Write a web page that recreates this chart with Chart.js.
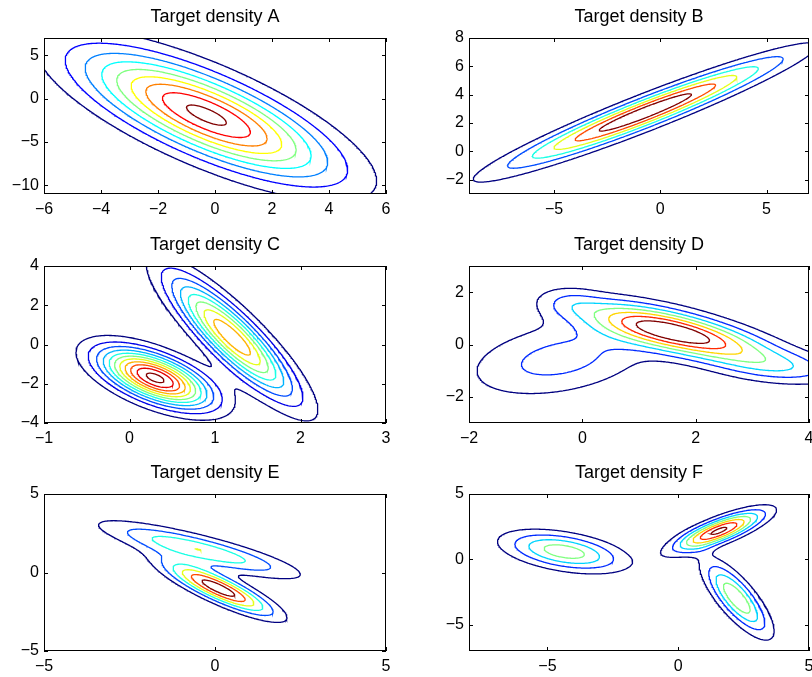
<!DOCTYPE html>
<html lang="en">
<head>
<meta charset="UTF-8">
<title>Target densities A-F</title>
<script src="https://cdn.jsdelivr.net/npm/chart.js"></script>
<style>
  html, body { margin: 0; padding: 0; background: #fff; overflow: hidden; }
  .panel { position: absolute; }
</style>
</head>
<body>
<div class="panel" id="pA"><canvas id="cA"></canvas></div>
<div class="panel" id="pB"><canvas id="cB"></canvas></div>
<div class="panel" id="pC"><canvas id="cC"></canvas></div>
<div class="panel" id="pD"><canvas id="cD"></canvas></div>
<div class="panel" id="pE"><canvas id="cE"></canvas></div>
<div class="panel" id="pF"><canvas id="cF"></canvas></div>

<script>
// Each density is a sum of Gaussian bumps: [meanX, meanY, sdX, sdY, corr, peak height]
// Contour levels are read off the picture, relative to the main peak.

const titles = ['Target density A', 'Target density B', 'Target density C',
                'Target density D', 'Target density E', 'Target density F'];

// A
const compA = [[-0.3, -1.9, 2.83, 4.74, -0.76, 1]];
const levelsA = [0.108, 0.216, 0.323, 0.431, 0.539, 0.647, 0.754, 0.862, 0.97];
const rangeA = [-6, 6, -11, 7];
const xTicksA = [-6, -4, -2, 0, 2, 4, 6];
const yTicksA = [-10, -5, 0, 5];

// B
const compB = [[-0.7, 2.75, 4.12, 2.5, 0.957, 1]];
const levelsB = [0.145, 0.29, 0.435, 0.58, 0.725, 0.87];
const rangeB = [-9, 7, -3, 8];
const xTicksB = [-5, 0, 5];
const yTicksB = [-2, 0, 2, 4, 6, 8];

// C
const compC = [[0.3, -1.7, 0.42, 0.98, -0.6, 1],
               [1.2, 0.37, 0.48, 2.04, -0.87, 0.78]];
const levelsC = [0.088, 0.176, 0.265, 0.353, 0.441, 0.529, 0.617, 0.706, 0.794, 0.882, 0.97];
const rangeC = [-1, 3, -4, 4];
const xTicksC = [-1, 0, 1, 2, 3];
const yTicksC = [-4, -2, 0, 2, 4];

// D
const compD = [[1.67, 0.45, 1.1, 0.75, -0.72, 1],
               [-0.4, -0.55, 1.1, 1.0, 0.35, 0.31],
               [3.5, -0.9, 0.8, 0.45, -0.3, 0.25],
               [-0.25, 1.6, 0.35, 0.4, 0, 0.12]];
const levelsD = [0.129, 0.257, 0.386, 0.514, 0.643, 0.771, 0.9];
const rangeD = [-2, 4, -3, 3];
const xTicksD = [-2, 0, 2, 4];
const yTicksD = [-2, 0, 2];

// E
const compE = [[-0.45, 1.45, 1.77, 1.11, -0.85, 0.598],
               [0.1, -1.0, 1.03, 1.12, -0.86, 1]];
const levelsE = [0.15, 0.3, 0.45, 0.6, 0.75, 0.9];
const rangeE = [-5, 5, -5, 5];
const xTicksE = [-5, 0, 5];
const yTicksE = [-5, 0, 5];

// F
const compF = [[1.57, 2.19, 1.1, 1.0, 0.79, 1],
               [-4.36, 0.6, 1.46, 0.98, -0.44, 0.634],
               [2.24, -2.96, 0.8, 1.8, -0.78, 0.676]];
const levelsF = [0.138, 0.276, 0.414, 0.552, 0.69, 0.828, 0.966];
const rangeF = [-8, 5, -7, 5];
const xTicksF = [-5, 0, 5];
const yTicksF = [-5, 0, 5];

// plot boxes on the page: left, top, width, height
const boxes = [[44, 38, 342, 156], [469, 38, 340, 156],
               [44, 266, 342, 157], [469, 266, 340, 157],
               [44, 494, 342, 157], [469, 494, 340, 157]];

// an empty right axis as wide as the left one keeps the title centred over the box
const Y_AXIS_W = 44, TITLE_H = 38, X_AXIS_H = 28;
const FONT = "'Liberation Sans', Arial, Helvetica, sans-serif";

function density(comps, x, y) {
  let s = 0;
  for (const [mx, my, sx, sy, r, h] of comps) {
    const u = (x - mx) / sx, v = (y - my) / sy;
    const q = (u * u - 2 * r * u * v + v * v) / (1 - r * r);
    s += h * Math.exp(-0.5 * q);
  }
  return s;
}

function makeGrid(comps, rng) {
  const [x0, x1, y0, y1] = rng;
  const nx = 261, ny = 181;
  const xs = [], ys = [];
  for (let i = 0; i < nx; i++) xs.push(x0 + (x1 - x0) * i / (nx - 1));
  for (let j = 0; j < ny; j++) ys.push(y0 + (y1 - y0) * j / (ny - 1));
  const v = ys.map(yy => xs.map(xx => density(comps, xx, yy)));
  return { xs, ys, v };
}

// marching squares, segments joined into polylines
function traceLevel(g, level) {
  const { xs, ys, v } = g;
  const pts = new Map(), adj = new Map();
  const link = (p, q) => {
    if (!adj.has(p)) adj.set(p, []);
    if (!adj.has(q)) adj.set(q, []);
    adj.get(p).push(q);
    adj.get(q).push(p);
  };
  for (let j = 0; j < ys.length - 1; j++) {
    for (let i = 0; i < xs.length - 1; i++) {
      const a = v[j][i], b = v[j][i + 1], c = v[j + 1][i + 1], d = v[j + 1][i];
      const ia = a > level, ib = b > level, ic = c > level, id = d > level;
      const n = ia + ib + ic + id;
      if (n === 0 || n === 4) continue;
      const edge = e => {
        let k, t, x, y;
        if (e === 0) { k = 'h' + i + '_' + j; t = (level - a) / (b - a); x = xs[i] + t * (xs[i + 1] - xs[i]); y = ys[j]; }
        else if (e === 1) { k = 'v' + (i + 1) + '_' + j; t = (level - b) / (c - b); x = xs[i + 1]; y = ys[j] + t * (ys[j + 1] - ys[j]); }
        else if (e === 2) { k = 'h' + i + '_' + (j + 1); t = (level - d) / (c - d); x = xs[i] + t * (xs[i + 1] - xs[i]); y = ys[j + 1]; }
        else { k = 'v' + i + '_' + j; t = (level - a) / (d - a); x = xs[i]; y = ys[j] + t * (ys[j + 1] - ys[j]); }
        if (!pts.has(k)) pts.set(k, { x, y });
        return k;
      };
      const cross = [];
      if (ia !== ib) cross.push(0);
      if (ib !== ic) cross.push(1);
      if (ic !== id) cross.push(2);
      if (id !== ia) cross.push(3);
      if (cross.length === 2) {
        link(edge(cross[0]), edge(cross[1]));
      } else {
        const centre = (a + b + c + d) / 4 > level;
        if (centre === ia) { link(edge(0), edge(1)); link(edge(2), edge(3)); }
        else { link(edge(3), edge(0)); link(edge(1), edge(2)); }
      }
    }
  }
  const seen = new Set(), paths = [];
  const walk = start => {
    const path = [pts.get(start)];
    seen.add(start);
    let cur = start;
    for (;;) {
      const next = adj.get(cur).find(k => !seen.has(k));
      if (next === undefined) break;
      seen.add(next);
      path.push(pts.get(next));
      cur = next;
    }
    return path;
  };
  for (const [k, nb] of adj) if (nb.length === 1 && !seen.has(k)) paths.push(walk(k));
  for (const k of adj.keys()) {
    if (!seen.has(k)) { const p = walk(k); p.push(p[0]); paths.push(p); }
  }
  return paths;
}

// MATLAB jet colormap
function jet(t) {
  const cl = z => Math.round(255 * Math.max(0, Math.min(1, z)));
  return 'rgb(' + cl(1.5 - Math.abs(4 * t - 3)) + ',' + cl(1.5 - Math.abs(4 * t - 2)) + ',' + cl(1.5 - Math.abs(4 * t - 1)) + ')';
}

// box round the axes with inward ticks on all four sides
const boxPlugin = {
  id: 'matlabBox',
  afterDatasetsDraw(chart) {
    const { ctx, chartArea: a, scales: { x, y } } = chart;
    ctx.save();
    ctx.strokeStyle = '#000';
    ctx.lineWidth = 1;
    ctx.beginPath();
    x.ticks.forEach(t => {
      const px = Math.round(x.getPixelForValue(t.value)) + 0.5;
      ctx.moveTo(px, a.bottom); ctx.lineTo(px, a.bottom - 4);
      ctx.moveTo(px, a.top); ctx.lineTo(px, a.top + 4);
    });
    y.ticks.forEach(t => {
      const py = Math.round(y.getPixelForValue(t.value)) + 0.5;
      ctx.moveTo(a.left, py); ctx.lineTo(a.left + 4, py);
      ctx.moveTo(a.right, py); ctx.lineTo(a.right - 4, py);
    });
    ctx.stroke();
    ctx.strokeRect(a.left + 0.5, a.top + 0.5, a.right - a.left - 1, a.bottom - a.top - 1);
    ctx.restore();
  }
};

const minus = v => String(v).replace('-', '\u2212');

function drawPanel(idx, comps, levels, rng, xTicks, yTicks) {
  const id = 'ABCDEF'[idx];
  const [bl, bt, bw, bh] = boxes[idx];
  const div = document.getElementById('p' + id);
  const cv = document.getElementById('c' + id);
  const W = 2 * Y_AXIS_W + bw, H = TITLE_H + bh + X_AXIS_H;
  div.style.left = (bl - Y_AXIS_W) + 'px';
  div.style.top = (bt - TITLE_H) + 'px';
  cv.width = W; cv.height = H;
  cv.style.width = W + 'px'; cv.style.height = H + 'px';

  const grid = makeGrid(comps, rng);
  const datasets = [];
  levels.forEach((lev, li) => {
    const col = jet(levels.length > 1 ? li / (levels.length - 1) : 0);
    traceLevel(grid, lev).forEach(path => {
      datasets.push({
        data: path, showLine: true, borderColor: col, borderWidth: 1.3,
        pointRadius: 0, pointHoverRadius: 0, fill: false, tension: 0
      });
    });
  });

  new Chart(cv, {
    type: 'scatter',
    data: { datasets },
    options: {
      responsive: false,
      animation: false,
      devicePixelRatio: 1,
      parsing: false,
      events: [],
      layout: { padding: 0 },
      plugins: {
        legend: { display: false },
        tooltip: { enabled: false },
        title: {
          display: true, text: titles[idx], color: '#000',
          font: { family: FONT, size: 18, weight: 'normal' },
          padding: { top: 6, bottom: 10.4 }
        }
      },
      scales: {
        x: {
          type: 'linear', min: rng[0], max: rng[1],
          afterBuildTicks: s => { s.ticks = xTicks.map(v => ({ value: v })); },
          afterFit: s => { s.height = X_AXIS_H; },
          grid: { display: false, drawTicks: false },
          border: { display: false },
          ticks: { color: '#000', font: { family: FONT, size: 16 }, padding: 6, maxRotation: 0, autoSkip: false, callback: minus }
        },
        y: {
          type: 'linear', min: rng[2], max: rng[3],
          afterBuildTicks: s => { s.ticks = yTicks.map(v => ({ value: v })); },
          afterFit: s => { s.width = Y_AXIS_W; },
          grid: { display: false, drawTicks: false },
          border: { display: false },
          ticks: { color: '#000', font: { family: FONT, size: 16 }, padding: 5, autoSkip: false, callback: minus }
        },
        yRight: {
          type: 'linear', position: 'right', display: true, min: rng[2], max: rng[3],
          afterFit: s => { s.width = Y_AXIS_W; },
          grid: { display: false, drawTicks: false },
          border: { display: false },
          ticks: { display: false }
        }
      }
    },
    plugins: [boxPlugin]
  });
}

drawPanel(0, compA, levelsA, rangeA, xTicksA, yTicksA);
drawPanel(1, compB, levelsB, rangeB, xTicksB, yTicksB);
drawPanel(2, compC, levelsC, rangeC, xTicksC, yTicksC);
drawPanel(3, compD, levelsD, rangeD, xTicksD, yTicksD);
drawPanel(4, compE, levelsE, rangeE, xTicksE, yTicksE);
drawPanel(5, compF, levelsF, rangeF, xTicksF, yTicksF);
</script>
</body>
</html>
